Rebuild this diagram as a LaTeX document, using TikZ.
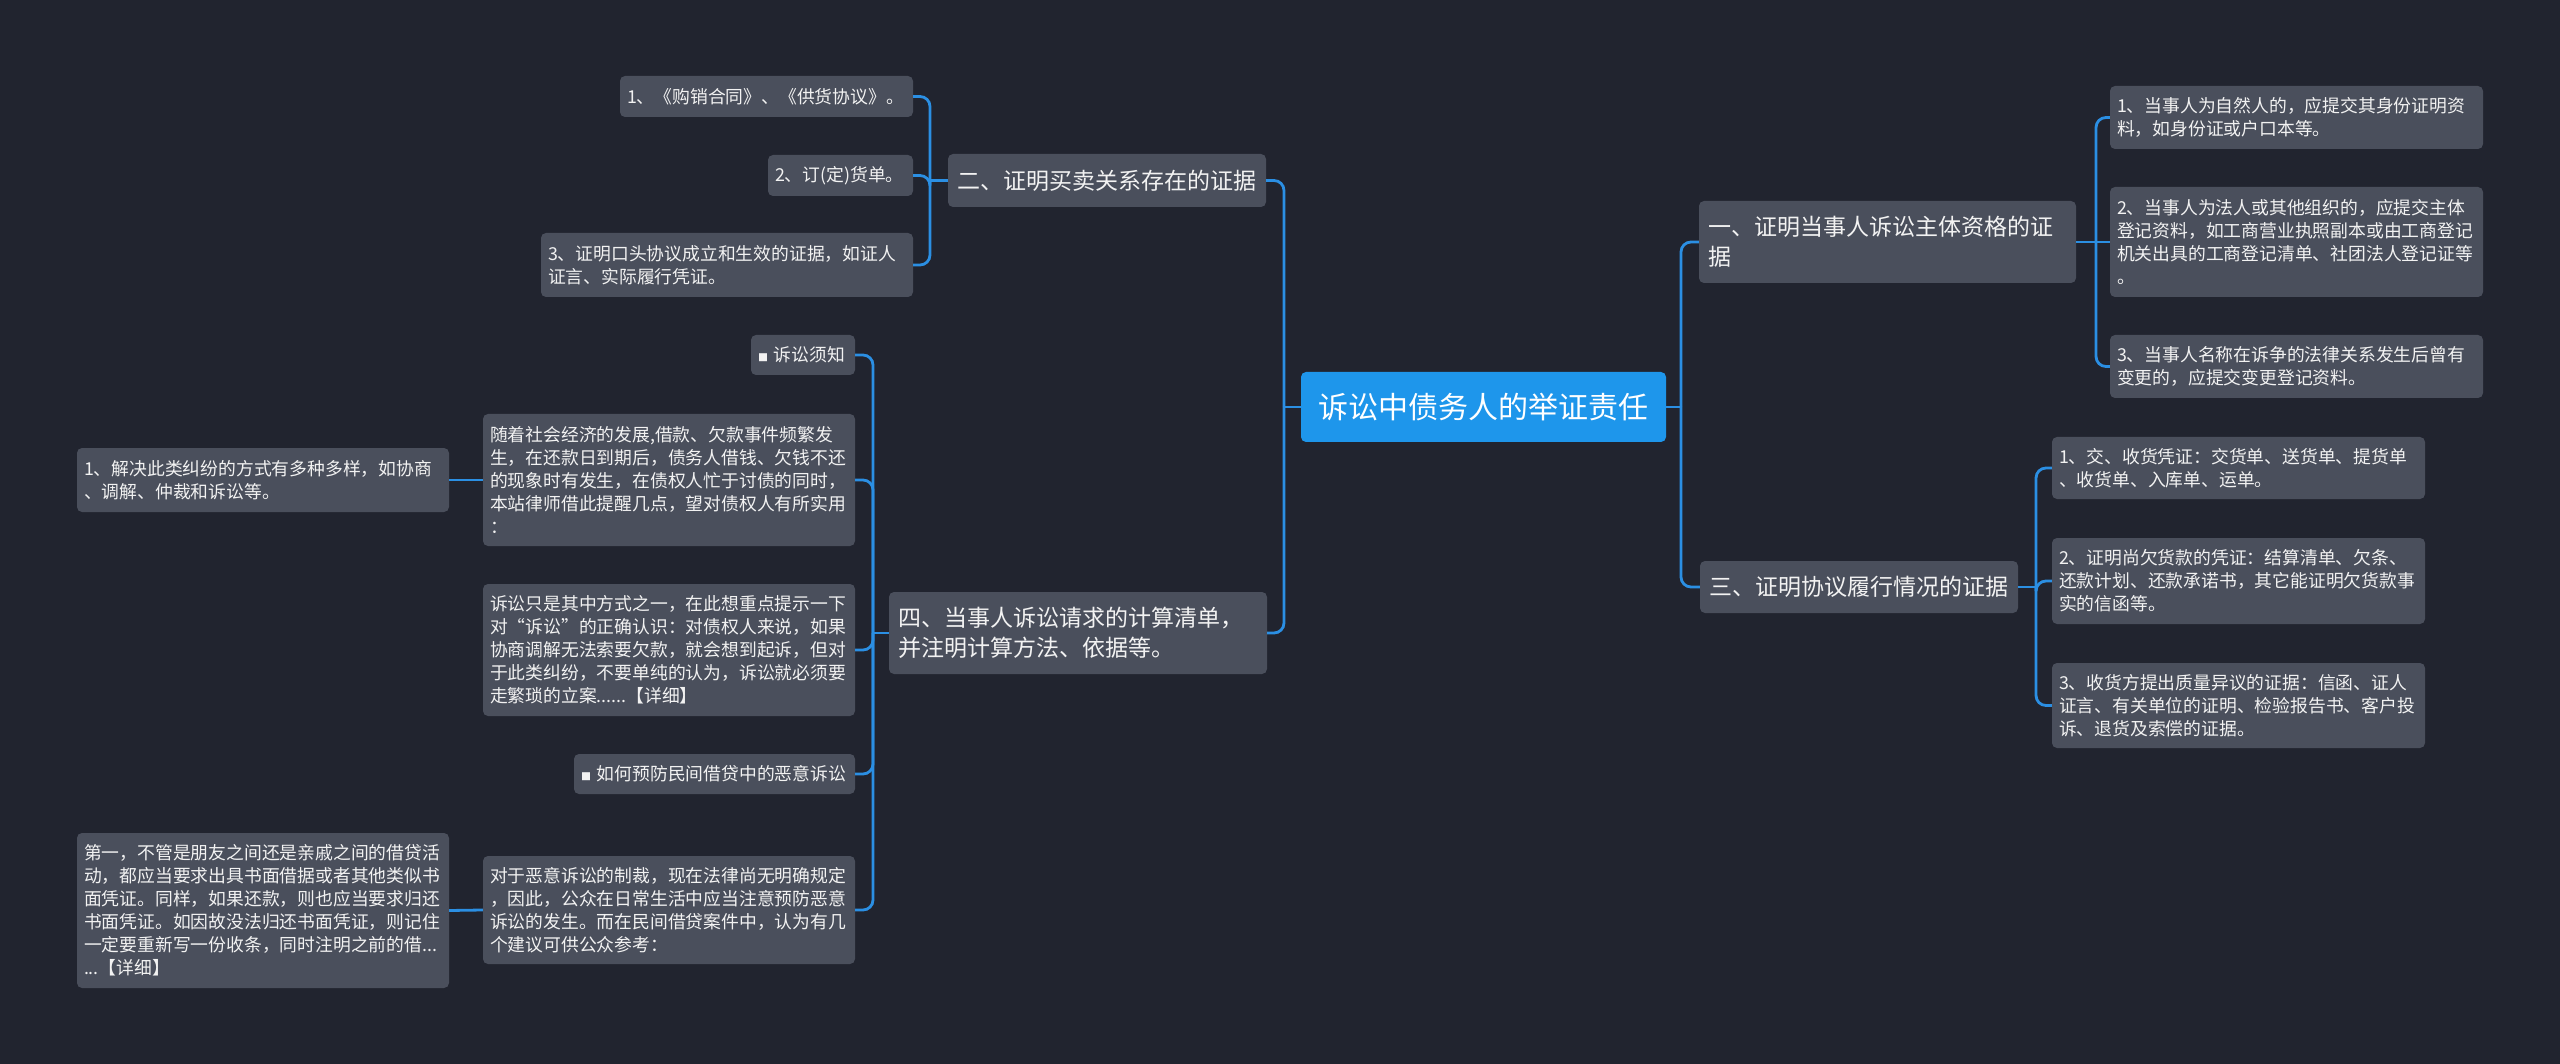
\documentclass[tikz,border=0pt]{standalone}
\usepackage{fontspec}
\setmainfont{Noto Sans CJK SC}
\definecolor{bg}{HTML}{21242F}
\definecolor{nodefill}{HTML}{4A4F5C}
\definecolor{rootfill}{HTML}{1E96EB}
\definecolor{linec}{HTML}{2B8FE3}
\definecolor{txt}{HTML}{F2F2F2}
\newcommand{\sq}{{\fontsize{10}{12}\selectfont ■}}
\begin{document}
\begin{tikzpicture}[x=1pt,y=-1pt,
 base/.style={rounded corners=5pt, fill=nodefill, text=txt, inner ysep=0pt, align=left},
 rootbox/.style={rounded corners=5pt, fill=rootfill, text=white, font=\fontsize{30}{36}\selectfont, align=center, inner sep=0pt},
 mainbox/.style={base, font=\fontsize{23}{30}\selectfont, inner xsep=9pt},
 leaf/.style={base, font=\fontsize{17.8}{23}\selectfont, inner xsep=7pt},
 conn/.style={draw=linec, line width=2.8pt, rounded corners=10pt},
]
\fill[bg] (0,0) rectangle (2560,1064);
\useasboundingbox (0,0) rectangle (2560,1064);

% root
\node[rootbox, minimum width=365pt, minimum height=70pt] (root) at (1483.5,407) {诉讼中债务人的举证责任};

% main branches
\node[mainbox, minimum width=377pt, minimum height=82pt, text width=359pt] (n1) at (1887.5,242) {一、证明当事人诉讼主体资格的证\\据};
\node[mainbox, minimum width=318pt, minimum height=53pt, text width=300pt] (n2) at (1107,180.5) {二、证明买卖关系存在的证据};
\node[mainbox, minimum width=318pt, minimum height=52pt, text width=300pt] (n3) at (1859,587) {三、证明协议履行情况的证据};
\node[mainbox, minimum width=378pt, minimum height=82pt, text width=360pt] (n4) at (1078,633) {四、当事人诉讼请求的计算清单，\\并注明计算方法、依据等。};

% children of 一
\node[leaf, minimum width=373pt, minimum height=63pt, text width=359pt] (c11) at (2296.5,117.5) {1、当事人为自然人的，应提交其身份证明资\\料，如身份证或户口本等。};
\node[leaf, minimum width=373pt, minimum height=110pt, text width=359pt] (c12) at (2296.5,242) {2、当事人为法人或其他组织的，应提交主体\\登记资料，如工商营业执照副本或由工商登记\\机关出具的工商登记清单、社团法人登记证等\\。};
\node[leaf, minimum width=373pt, minimum height=63pt, text width=359pt] (c13) at (2296.5,366.5) {3、当事人名称在诉争的法律关系发生后曾有\\变更的，应提交变更登记资料。};

% children of 二
\node[leaf, minimum width=293pt, minimum height=41pt, text width=279pt] (c21) at (766.5,96.5) {1、《购销合同》、《供货协议》。};
\node[leaf, minimum width=145pt, minimum height=41pt, text width=131pt] (c22) at (840.5,175.5) {2、订(定)货单。};
\node[leaf, minimum width=372pt, minimum height=64pt, text width=358pt] (c23) at (727,265) {3、证明口头协议成立和生效的证据，如证人\\证言、实际履行凭证。};

% children of 三
\node[leaf, minimum width=373pt, minimum height=62pt, text width=359pt] (c31) at (2238.5,468) {1、交、收货凭证：交货单、送货单、提货单\\、收货单、入库单、运单。};
\node[leaf, minimum width=373pt, minimum height=86pt, text width=359pt] (c32) at (2238.5,581) {2、证明尚欠货款的凭证：结算清单、欠条、\\还款计划、还款承诺书，其它能证明欠货款事\\实的信函等。};
\node[leaf, minimum width=373pt, minimum height=85pt, text width=359pt] (c33) at (2238.5,705.5) {3、收货方提出质量异议的证据：信函、证人\\证言、有关单位的证明、检验报告书、客户投\\诉、退货及索偿的证据。};

% children of 四
\node[leaf, minimum width=104pt, minimum height=40pt, text width=90pt] (c41) at (803,355) {\sq\ 诉讼须知};
\node[leaf, minimum width=372pt, minimum height=132pt, text width=358pt] (c42) at (669,480) {随着社会经济的发展,借款、欠款事件频繁发\\生，在还款日到期后，债务人借钱、欠钱不还\\的现象时有发生，在债权人忙于讨债的同时，\\本站律师借此提醒几点，望对债权人有所实用\\：};
\node[leaf, minimum width=372pt, minimum height=132pt, text width=358pt] (c43) at (669,650) {诉讼只是其中方式之一，在此想重点提示一下\\对“诉讼”的正确认识：对债权人来说，如果\\协商调解无法索要欠款，就会想到起诉，但对\\于此类纠纷，不要单纯的认为，诉讼就必须要\\走繁琐的立案......【详细】};
\node[leaf, minimum width=281pt, minimum height=40pt, text width=267pt] (c44) at (714.5,774) {\sq\ 如何预防民间借贷中的恶意诉讼};
\node[leaf, minimum width=372pt, minimum height=108pt, text width=358pt] (c45) at (669,910) {对于恶意诉讼的制裁，现在法律尚无明确规定\\，因此，公众在日常生活中应当注意预防恶意\\诉讼的发生。而在民间借贷案件中，认为有几\\个建议可供公众参考：};
\node[leaf, minimum width=372pt, minimum height=64pt, text width=358pt] (g1) at (263,480) {1、解决此类纠纷的方式有多种多样，如协商\\、调解、仲裁和诉讼等。};
\node[leaf, minimum width=372pt, minimum height=155pt, text width=358pt] (g2) at (263,910.5) {第一，不管是朋友之间还是亲戚之间的借贷活\\动，都应当要求出具书面借据或者其他类似书\\面凭证。同样，如果还款，则也应当要求归还\\书面凭证。如因故没法归还书面凭证，则记住\\一定要重新写一份收条，同时注明之前的借...\\...【详细】};

% bus coordinates
\coordinate (bL) at (1284,407);
\coordinate (bR) at (1681,407);
\coordinate (b1) at (2096,242);
\coordinate (b2) at (930,180.5);
\coordinate (b3) at (2036,587);
\coordinate (b4) at (873,633);

% connectors
\draw[conn] (root.west) -- (bL);
\draw[conn] (bL) |- (n2.east);
\draw[conn] (bL) |- (n4.east);
\draw[conn] (root.east) -- (bR);
\draw[conn] (bR) |- (n1.west);
\draw[conn] (bR) |- (n3.west);

\draw[conn] (n1.east) -- (b1);
\draw[conn] (b1) |- (c11.west);
\draw[conn] (b1) -- (c12.west);
\draw[conn] (b1) |- (c13.west);

\draw[conn] (n2.west) -- (b2);
\draw[conn] (b2) |- (c21.east);
\draw[conn] (b2) |- (c22.east);
\draw[conn] (b2) |- (c23.east);

\draw[conn] (n3.east) -- (b3);
\draw[conn] (b3) |- (c31.west);
\draw[conn] (b3) |- (c32.west);
\draw[conn] (b3) |- (c33.west);

\draw[conn] (n4.west) -- (b4);
\draw[conn] (b4) |- (c41.east);
\draw[conn] (b4) |- (c42.east);
\draw[conn] (b4) |- (c43.east);
\draw[conn] (b4) |- (c44.east);
\draw[conn] (b4) |- (c45.east);

\draw[conn] (c42.west) -- (g1.east);
\draw[conn] (c45.west) -- (g2.east);
\end{tikzpicture}
\end{document}
